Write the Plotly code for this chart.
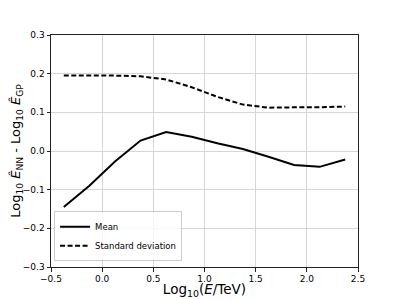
import plotly.graph_objects as go

log_e = [-0.375, -0.125, 0.125, 0.375, 0.625, 0.875, 1.125, 1.375, 1.625, 1.875, 2.125, 2.375]
mean_vals = [-0.145, -0.090, -0.027, 0.027, 0.049, 0.037, 0.020, 0.005, -0.015, -0.036, -0.041, -0.022]
std_vals = [0.195, 0.195, 0.195, 0.193, 0.185, 0.165, 0.140, 0.120, 0.112, 0.113, 0.113, 0.115]

x_ticks = [-0.5, 0.0, 0.5, 1.0, 1.5, 2.0, 2.5]
y_ticks = [-0.3, -0.2, -0.1, 0.0, 0.1, 0.2, 0.3]

FONT = "DejaVu Sans"

fig = go.Figure()
fig.add_trace(go.Scatter(x=log_e, y=mean_vals, mode="lines", name="Mean",
                         line=dict(color="black", width=2)))
fig.add_trace(go.Scatter(x=log_e, y=std_vals, mode="lines", name="Standard deviation",
                         line=dict(color="black", width=2, dash="5px,2.5px")))

axis_common = dict(showline=True, linecolor="#222222", linewidth=1, mirror=True,
                   ticks="outside", ticklen=3.5, tickwidth=1, tickcolor="#222222",
                   showgrid=True, gridcolor="#d6d6d6", gridwidth=0.8, zeroline=False,
                   automargin=False,
                   tickfont=dict(family=FONT, size=9, color="black"))

# page body has an 8px margin, so the figure is shrunk by 8px to fit the window
fig.update_layout(
    width=391, height=291,
    margin=dict(l=43, r=41, t=27, b=32),
    paper_bgcolor="white", plot_bgcolor="white",
    font=dict(family=FONT, color="black"),
    xaxis=dict(range=[-0.5, 2.5], tickvals=x_ticks,
               ticktext=[f"{v:.1f}".replace("-", "\u2212") for v in x_ticks],
               title=dict(text="Log<sub>10</sub>(<i>E</i>/TeV)", font=dict(family=FONT, size=13.5),
                          standoff=1),
               **axis_common),
    yaxis=dict(range=[-0.3, 0.3], tickvals=y_ticks,
               ticktext=[f"{v:.1f}".replace("-", "\u2212") for v in y_ticks],
               title=dict(text="Log<sub>10</sub> <i>Ê</i><sub>NN</sub> - Log<sub>10</sub> <i>Ê</i><sub>GP</sub>",
                          font=dict(family=FONT, size=13), standoff=3),
               **axis_common),
    legend=dict(x=0.01, y=0.025, xanchor="left", yanchor="bottom",
                bgcolor="rgba(255,255,255,0.8)", bordercolor="#cccccc", borderwidth=1,
                font=dict(family=FONT, size=8.5), itemwidth=30, tracegroupgap=0),
    showlegend=True,
)

fig.write_html("out.html")
